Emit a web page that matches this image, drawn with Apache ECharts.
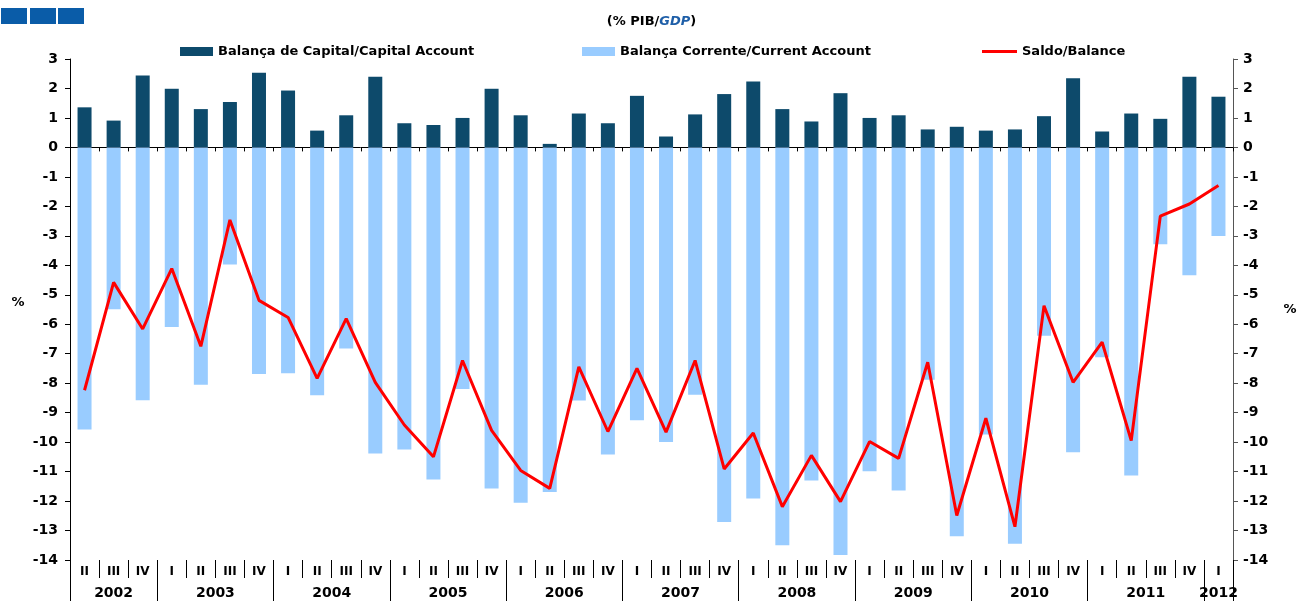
<!DOCTYPE html>
<html>
<head>
<meta charset="utf-8">
<script src="https://cdn.jsdelivr.net/npm/echarts@6/dist/echarts.min.js"></script>
<style>
  html, body { margin: 0; padding: 0; background: #fff; }
  #chart { width: 1303px; height: 601px; }
</style>
</head>
<body>
<div id="chart"></div>
<script>
// quarters per year, 2002 II .. 2012 I
var years = ['2002', '2003', '2004', '2005', '2006', '2007', '2008', '2009', '2010', '2011', '2012'];
var yearQuarters = [
  ['II', 'III', 'IV'],
  ['I', 'II', 'III', 'IV'], ['I', 'II', 'III', 'IV'], ['I', 'II', 'III', 'IV'],
  ['I', 'II', 'III', 'IV'], ['I', 'II', 'III', 'IV'], ['I', 'II', 'III', 'IV'],
  ['I', 'II', 'III', 'IV'], ['I', 'II', 'III', 'IV'], ['I', 'II', 'III', 'IV'],
  ['I']
];

var capital = [1.36, 0.91, 2.44, 1.99, 1.30, 1.54, 2.53, 1.93, 0.57, 1.09,
  2.40, 0.82, 0.76, 1.00, 1.99, 1.09, 0.12, 1.15, 0.82, 1.75,
  0.37, 1.12, 1.81, 2.24, 1.30, 0.88, 1.84, 1.00, 1.09, 0.61,
  0.70, 0.57, 0.61, 1.06, 2.35, 0.54, 1.15, 0.97, 2.40, 1.72];

var current = [-9.57, -5.49, -8.58, -6.09, -8.05, -3.97, -7.69, -7.66, -8.41, -6.82,
  -10.39, -10.25, -11.27, -8.20, -11.57, -12.06, -11.69, -8.59, -10.42, -9.26,
  -10.00, -8.39, -12.71, -11.91, -13.50, -11.30, -13.83, -10.99, -11.64, -7.88,
  -13.19, -9.74, -13.45, -6.39, -10.34, -7.12, -11.13, -3.29, -4.34, -3.01];

var balance = [-8.24, -4.58, -6.16, -4.11, -6.75, -2.46, -5.19, -5.77, -7.84, -5.81,
  -7.97, -9.42, -10.50, -7.23, -9.60, -10.96, -11.57, -7.45, -9.64, -7.50,
  -9.66, -7.23, -10.91, -9.69, -12.19, -10.45, -12.02, -9.98, -10.55, -7.29,
  -12.49, -9.19, -12.87, -5.37, -7.97, -6.61, -9.95, -2.33, -1.92, -1.29];

var yTicks = { min: -14, max: 3, step: 1 };

// flat quarter list
var quarters = [];
yearQuarters.forEach(function (q) { quarters = quarters.concat(q); });

// half-quarter points for the year row: labels at year centres, ticks at year boundaries
var yearPoints = [];
var yearBounds = {};
for (var k = 0; k <= quarters.length * 2; k++) yearPoints.push('');
var pos = 0;
yearQuarters.forEach(function (q, i) {
  yearBounds[pos * 2] = true;
  yearPoints[pos * 2 + q.length] = years[i];
  pos += q.length;
});
yearBounds[pos * 2] = true;

var chart = echarts.init(document.getElementById('chart'));
var font = 'DejaVu Sans, Arial, sans-serif';

var option = {
  animation: false,
  textStyle: { fontFamily: font },
  title: {
    left: 'center',
    top: 10,
    text: '{a|(% PIB/}{b|GDP}{a|)}',
    textStyle: {
      rich: {
        a: { fontSize: 13, fontWeight: 'bold', color: '#000', fontFamily: font },
        b: { fontSize: 13, fontWeight: 'bold', fontStyle: 'italic', color: '#1f5fa8', fontFamily: font }
      }
    }
  },
  graphic: [
    { type: 'rect', left: 1, top: 8, shape: { width: 26, height: 16 }, style: { fill: '#0a5ca8' } },
    { type: 'rect', left: 30, top: 8, shape: { width: 26, height: 16 }, style: { fill: '#0a5ca8' } },
    { type: 'rect', left: 58, top: 8, shape: { width: 26, height: 16 }, style: { fill: '#0a5ca8' } }
  ],
  legend: [
    {
      left: 180, top: 45, padding: 0, itemWidth: 33, itemHeight: 9,
      data: [{ name: 'Balança de Capital/Capital Account', icon: 'rect' }],
      textStyle: { fontSize: 13, fontWeight: 'bold', color: '#000', fontFamily: font }
    },
    {
      left: 582, top: 45, padding: 0, itemWidth: 33, itemHeight: 9,
      data: [{ name: 'Balança Corrente/Current Account', icon: 'rect' }],
      textStyle: { fontSize: 13, fontWeight: 'bold', color: '#000', fontFamily: font }
    },
    {
      left: 982, top: 45, padding: 0, itemWidth: 35, itemHeight: 3,
      data: [{ name: 'Saldo/Balance', icon: 'rect' }],
      textStyle: { fontSize: 13, fontWeight: 'bold', color: '#000', fontFamily: font }
    }
  ],
  grid: { left: 70, right: 70, top: 59, bottom: 41 },
  xAxis: [
    {
      type: 'category', data: quarters, boundaryGap: true,
      axisLine: { onZero: true, onZeroAxisIndex: 0, lineStyle: { color: '#000', width: 1 } },
      axisTick: { show: true, length: 4, interval: 0, lineStyle: { color: '#000' } },
      axisLabel: { show: false }
    },
    {
      type: 'category', data: quarters, boundaryGap: true, position: 'bottom',
      axisLine: { show: false, onZero: false },
      axisTick: { show: true, length: 18, interval: 0, lineStyle: { color: '#000' } },
      axisLabel: { interval: 0, margin: 6, fontSize: 12, fontWeight: 'bold', color: '#000', fontFamily: font }
    },
    {
      type: 'category', data: yearPoints, boundaryGap: false, position: 'bottom',
      axisLine: { show: false, onZero: false },
      axisTick: {
        show: true, length: 45, lineStyle: { color: '#000' },
        interval: function (index) { return !!yearBounds[index]; }
      },
      axisLabel: { interval: 0, margin: 26, fontSize: 14, fontWeight: 'bold', color: '#000', fontFamily: font }
    }
  ],
  yAxis: [
    {
      type: 'value', min: yTicks.min, max: yTicks.max, interval: yTicks.step,
      position: 'left',
      name: '%', nameLocation: 'middle', nameRotate: 0, nameGap: 52,
      nameTextStyle: { fontSize: 13, fontWeight: 'bold', color: '#000', align: 'center', verticalAlign: 'bottom' },
      axisLine: { show: true, lineStyle: { color: '#000' } },
      axisTick: { show: true, length: 5, lineStyle: { color: '#000' } },
      axisLabel: { margin: 12, fontSize: 14, fontWeight: 'bold', color: '#000', fontFamily: font },
      splitLine: { show: false }
    },
    {
      type: 'value', min: yTicks.min, max: yTicks.max, interval: yTicks.step,
      position: 'right',
      name: '%', nameLocation: 'middle', nameRotate: 0, nameGap: 57,
      nameTextStyle: { fontSize: 13, fontWeight: 'bold', color: '#000', align: 'center' },
      axisLine: { show: true, lineStyle: { color: '#555' } },
      axisTick: { show: true, length: 5, lineStyle: { color: '#555' } },
      axisLabel: { margin: 10, fontSize: 14, fontWeight: 'bold', color: '#000', fontFamily: font },
      splitLine: { show: false }
    }
  ],
  series: [
    {
      name: 'Balança de Capital/Capital Account', type: 'bar', data: capital,
      xAxisIndex: 0, yAxisIndex: 0, barWidth: 14, barGap: '-100%',
      itemStyle: { color: '#0d4a6b' }
    },
    {
      name: 'Balança Corrente/Current Account', type: 'bar', data: current,
      xAxisIndex: 0, yAxisIndex: 0, barWidth: 14, barGap: '-100%',
      itemStyle: { color: '#99ccff' }
    },
    {
      name: 'Saldo/Balance', type: 'line', data: balance,
      xAxisIndex: 0, yAxisIndex: 0, symbol: 'none', z: 5,
      lineStyle: { color: '#ff0000', width: 3 },
      itemStyle: { color: '#ff0000' }
    }
  ]
};

option && chart.setOption(option);
</script>
</body>
</html>
